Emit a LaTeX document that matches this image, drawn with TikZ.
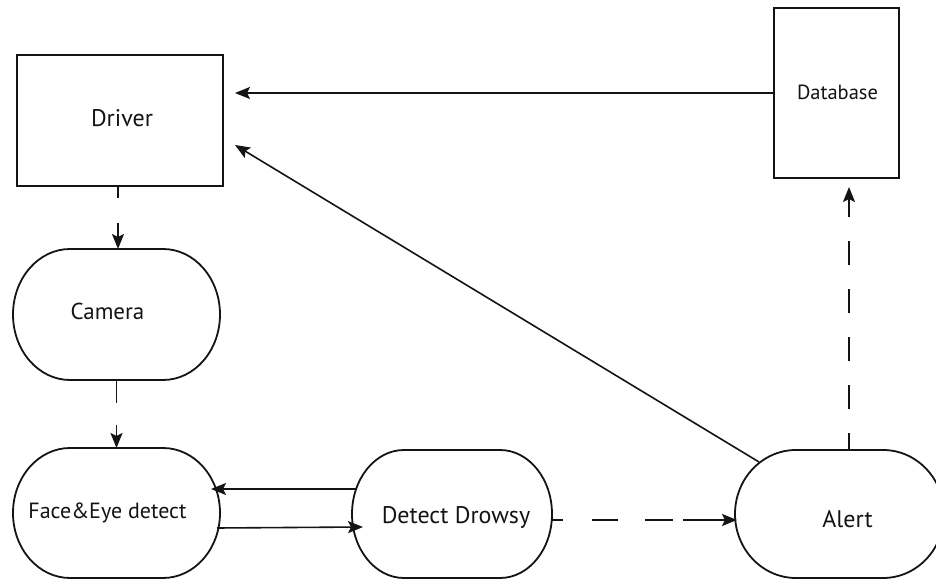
\documentclass[tikz,border=0pt]{standalone}
\usepackage{fontspec}
\setmainfont{PT Sans}
\usetikzlibrary{arrows.meta}

\definecolor{ink}{HTML}{141414}

\tikzset{
  outline/.style={draw=ink, line width=1.8pt},
  boxnode/.style={outline, rectangle, inner sep=0pt, outer sep=0pt},
  stnode/.style={rectangle, inner sep=0pt, outer sep=0pt},
  lbl/.style={inner sep=0pt, text=ink, font=\fontsize{24}{28}\selectfont},
  arr/.style={draw=ink, line width=1.6pt, -{Stealth[length=15pt, width=12pt, inset=3pt]}},
}

% stadium-shaped process box with elliptical ends
\newcommand\stadiumbox[5]{%
  \node[stnode, minimum width=#3, minimum height=#4] (#1) at (#2) {};
  \draw[outline] ([xshift=#5]#1.north west) -- ([xshift=-#5]#1.north east)
    arc[start angle=90, end angle=-90, x radius=#5, y radius=#4/2]
    -- ([xshift=#5]#1.south west)
    arc[start angle=270, end angle=90, x radius=#5, y radius=#4/2] -- cycle;}

\begin{document}
\begin{tikzpicture}[x=1pt, y=1pt]
  \useasboundingbox (0,0) rectangle (936,578);
  \clip (0,0) rectangle (936,578);
  \fill[white] (0,0) rectangle (936,578);

  % rectangular boxes
  \node[boxnode, minimum width=206pt, minimum height=131pt] (drv) at (120,457.5) {};
  \node[lbl] (drvtext) at ([xshift=2pt,yshift=2pt]drv.center) {Driver};

  \node[boxnode, minimum width=125pt, minimum height=170pt] (db) at (836.5,485) {};
  \node[lbl, font=\fontsize{20.5}{24}\selectfont] (dbtext) at ([xshift=1pt,yshift=1pt]db.center) {Database};

  % stadium boxes
  \stadiumbox{cam}{116.5,263.5}{207pt}{131pt}{57pt}
  \node[lbl, font=\fontsize{23}{27}\selectfont] (camtext) at ([xshift=-9pt,yshift=3pt]cam.center) {Camera};

  \stadiumbox{face}{116.5,65}{207pt}{130pt}{57pt}
  \node[lbl, font=\fontsize{22}{26}\selectfont] (facetext) at ([xshift=-9pt]face.center) {Face\&Eye detect};

  \stadiumbox{det}{452,64}{200pt}{128pt}{52pt}
  \node[lbl] (dettext) at ([xshift=4pt,yshift=-3pt]det.center) {Detect Drowsy};

  \stadiumbox{alert}{839.5,64}{209pt}{128pt}{61pt}
  \node[lbl] (alerttext) at ([xshift=8pt,yshift=-5pt]alert.center) {Alert};

  % connectors
  \draw[arr] (db.west) -- ([xshift=12pt]drv.east |- db.west);
  \draw[arr] ([xshift=24pt,yshift=-12pt]alert.north west) -- ([xshift=12pt,yshift=-24.5pt]drv.east);

  \draw[arr, dash pattern=on 12pt off 25pt on 60pt] (drv.south -| 118,0) -- (cam.north -| 118,0);
  \draw[arr, dash pattern=on 23pt off 22pt on 60pt] (cam.south) -- (face.north);

  \draw[arr] ([xshift=5pt,yshift=25pt]det.west) -- ([xshift=-9pt,yshift=24pt]face.east);
  \draw[arr] ([xshift=-3pt,yshift=-15pt]face.east) -- ([xshift=11pt,yshift=-13pt]det.west);

  \draw[arr, dash pattern=on 11pt off 29pt on 26pt off 27pt on 28pt off 10pt on 90pt]
    ([yshift=-6pt]det.east) -- ([xshift=2pt,yshift=-6pt]alert.west);
  \draw[arr, dash pattern=on 24pt off 24pt, dash phase=7pt]
    ([xshift=9.5pt]alert.north) -- ([xshift=12.5pt,yshift=-9pt]db.south);
\end{tikzpicture}
\end{document}
